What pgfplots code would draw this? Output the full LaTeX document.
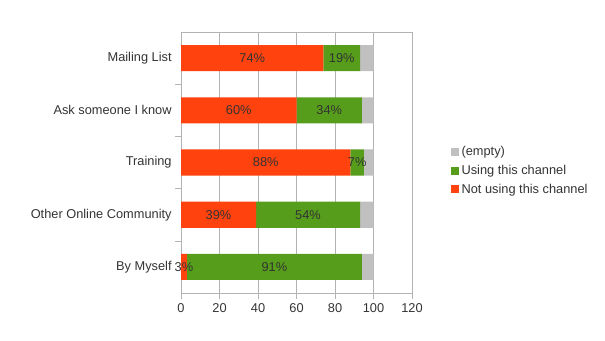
\documentclass[border=0pt]{standalone}
\usepackage{fontspec}
\setmainfont{Liberation Sans}
\usepackage{pgfplots}
\pgfplotsset{compat=1.18}
\definecolor{cred}{HTML}{FF420E}
\definecolor{cgreen}{HTML}{579D1C}
\definecolor{cgray}{HTML}{C0C0C0}
\definecolor{ctext}{HTML}{333333}
\definecolor{cgrid}{HTML}{B3B3B3}
\newcommand{\fs}{\fontsize{9.6}{11.5}\selectfont}
\begin{document}
\begin{tikzpicture}
\useasboundingbox (0,0) rectangle (453.75pt,255pt);
\begin{axis}[
  at={(135.75pt,35.25pt)}, anchor=south west,
  scale only axis, width=173.25pt, height=195.75pt,
  xbar stacked, bar width=0.5,
  every axis plot/.append style={draw=none,
    legend image code/.code={\fill[##1] (0pt,-3pt) rectangle (6pt,3pt);}},
  xmin=0, xmax=120, ymin=-0.5, ymax=4.5,
  xtick={0,20,...,120},
  ytick={0.5,1.5,2.5,3.5}, yticklabels={},
  extra y ticks={0,1,2,3,4},
  extra y tick labels={By Myself,Other Online Community,Training,Ask someone I know,Mailing List},
  extra y tick style={major tick length=0pt, yticklabel style={xshift=-3.5pt}},
  tick align=outside, major tick length=4.5pt, tick pos=left,
  tick style={cgrid},
  axis line style={cgrid},
  xmajorgrids, major grid style={cgrid},
  tick label style={font=\fs, text=ctext},
  /pgf/number format/assume math mode=true,
  legend style={draw=none, fill=none, font=\fs, text=ctext, at={(1.15,0.468)}, anchor=west, row sep=1.5pt, cells={anchor=west}},
  legend cell align=left,
  reverse legend,
  point meta=explicit symbolic,
  nodes near coords style={font=\fs, text=ctext},
]
\addplot[fill=cred, nodes near coords={\pgfplotspointmeta\%},
  every node near coord/.append style={anchor=center}]
  table[x=x, y=y, meta=v] {
x y v
3 0 3
39 1 39
88 2 88
60 3 60
74 4 74
};
\addlegendentry{Not using this channel}
\addplot[fill=cgreen, nodes near coords={\pgfplotspointmeta\%},
  every node near coord/.append style={anchor=center}]
  table[x=x, y=y, meta=v] {
x y v
91 0 91
54 1 54
7 2 7
34 3 34
19 4 19
};
\addlegendentry{Using this channel}
\addplot[fill=cgray] table[x=x, y=y, meta=v] {
x y v
6 0 6
7 1 7
5 2 5
6 3 6
7 4 7
};
\addlegendentry{(empty)}
\end{axis}
\end{tikzpicture}
\end{document}
